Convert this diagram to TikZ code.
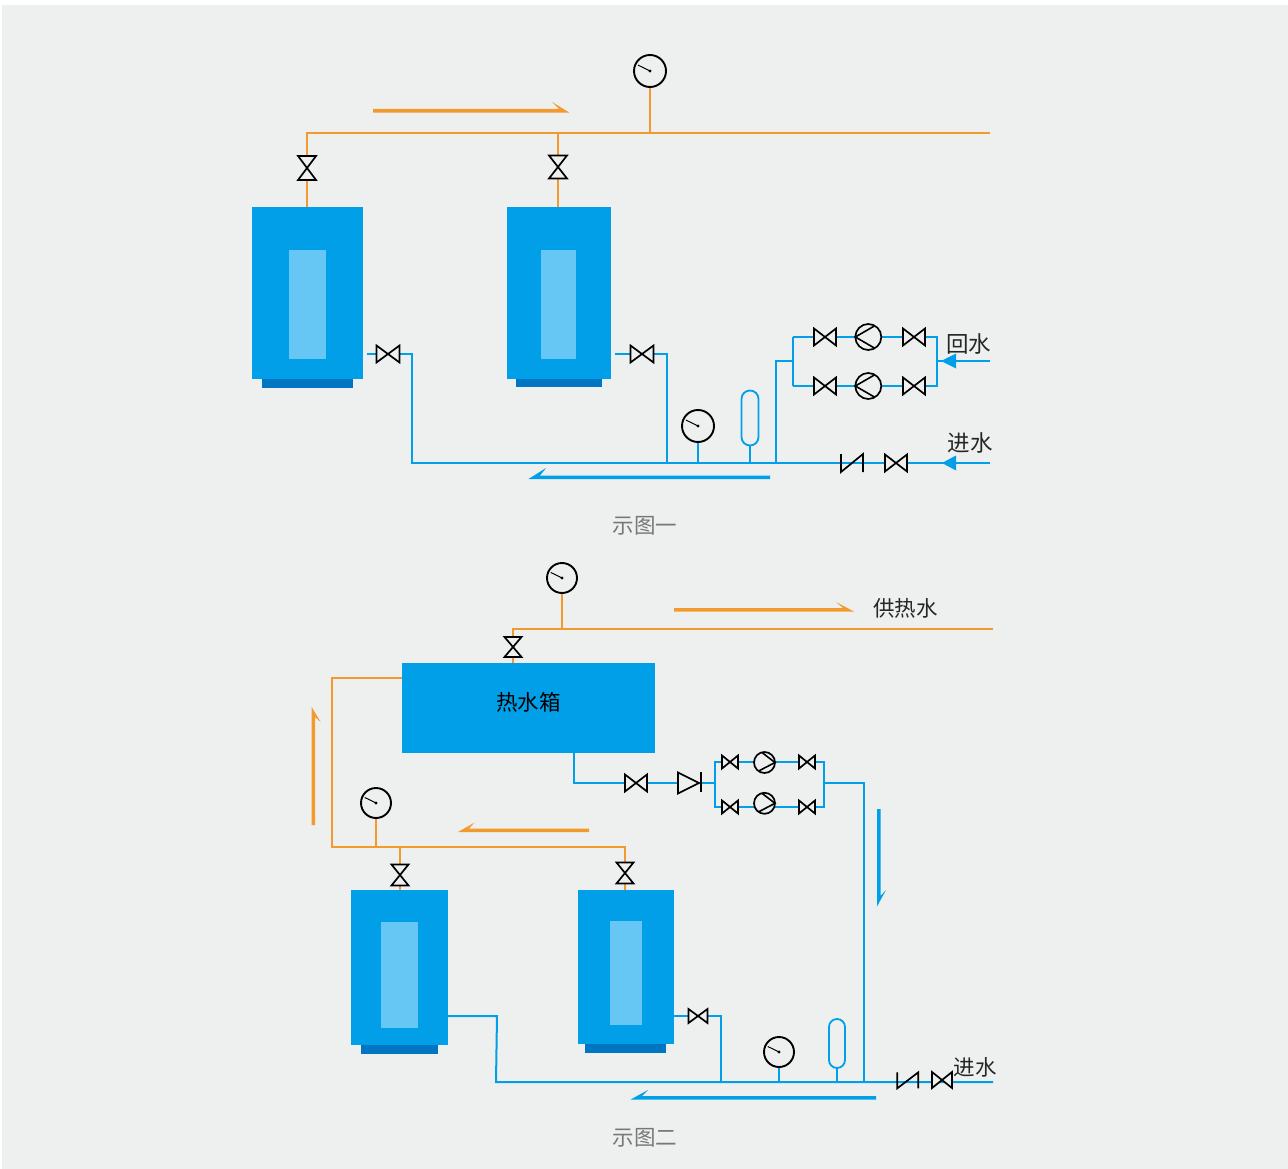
\documentclass[tikz,border=0pt]{standalone}
\usepackage{fontspec}
\setmainfont{Noto Sans CJK SC}
\usetikzlibrary{backgrounds,calc}
\definecolor{bgc}{HTML}{EEF0EF}
\definecolor{blu}{HTML}{009FE8}
\definecolor{inn}{HTML}{66C6F4}
\definecolor{drk}{HTML}{0075C2}
\definecolor{org}{HTML}{F39A2E}
\definecolor{capc}{HTML}{777777}
\tikzset{
  solid box/.style={inner sep=0pt,outer sep=0pt,draw=none},
  bluepipe/.style={draw=blu,line width=2pt,line join=miter},
  orgpipe/.style={draw=org,line width=2pt,line join=miter},
  sym/.style={draw=black,line width=1.7pt,fill=bgc,line join=miter},
  lbl/.style={inner sep=0pt,font=\fontsize{21.5}{21.5}\selectfont,text=black!85},
  captext/.style={inner sep=0pt,font=\fontsize{21.5}{21.5}\selectfont,text=capc}
}
% valves: name x y width height
\newcommand{\vh}[5]{\node[solid box,minimum width=#4pt,minimum height=#5pt] (#1) at (#2,#3) {};
  \draw[sym] (#1.north west) -- (#1.south east) -- (#1.north east) -- (#1.south west) -- cycle;}
\newcommand{\vv}[5]{\node[solid box,minimum width=#4pt,minimum height=#5pt] (#1) at (#2,#3) {};
  \draw[sym] (#1.north west) -- (#1.north east) -- (#1.south west) -- (#1.south east) -- cycle;}
% gauge: name x y r
\newcommand{\gauge}[4]{\node[solid box,circle,minimum size=#4pt*2,draw=black,line width=1.9pt,fill=bgc] (#1) at (#2,#3) {};
  \draw[black,line width=1pt] (#1.center) -- ++(-#4*0.75,-#4*0.37);
  \fill[black] (#1.center) circle (1.6pt);}
% pumps
\newcommand{\pumpL}[4]{\node[solid box,circle,minimum size=#4pt*2,draw=black,line width=1.7pt,fill=bgc] (#1) at (#2,#3) {};
  \draw[black,line width=1.6pt] (#1.60) -- (#1.180) -- (#1.-60);}
\newcommand{\pumpR}[4]{\node[solid box,circle,minimum size=#4pt*2,draw=black,line width=1.7pt,fill=bgc] (#1) at (#2,#3) {};
  \draw[black,line width=1.6pt] (#1.105) -- (#1.0) -- (#1.-125);}
% capsule tank: name x y w h
\newcommand{\capsule}[5]{\node[solid box,rounded corners=#4*0.5pt,minimum width=#4pt,minimum height=#5pt,draw=blu,line width=1.8pt,fill=bgc] (#1) at (#2,#3) {};}
% boiler: name, body x0 x1 y0 y1, base x0 x1 y1, window
\newcommand{\boiler}[9]{\fill[drk] (#6,#5) rectangle (#7,#8);
  \node[solid box,fill=blu,minimum width=#3pt-#2pt,minimum height=#5pt-#4pt] (#1) at ({(#2+#3)/2},{(#4+#5)/2}) {};
  \boilerwin#9}
\def\boilerwin(#1,#2,#3,#4){\fill[inn] (#1,#3) rectangle (#2,#4);}
\begin{document}
\begin{tikzpicture}[x=1pt,y=-1pt]
\useasboundingbox (0,0) rectangle (1288,1169);
\begin{scope}[on background layer]
\fill[white] (0,0) rectangle (1288,1169);
\fill[bgc] (2,5) rectangle (1288,1169);
\end{scope}

% ============ figure one
\boiler{b1}{252}{363}{207}{379}{262}{353}{388}{(289,326,250,359)}
\boiler{b2}{507}{611}{207}{379}{516}{602}{387}{(541,576,250,359)}
\vv{v1}{307}{168}{18}{24}
\vv{v2}{558}{167}{18}{23}
\gauge{g1}{650}{71}{16}
\gauge{g2}{698}{426}{16}
\capsule{t1}{750}{418}{17}{55}
\vh{v3}{388}{354}{23}{17}
\vh{v4}{642}{354}{23}{17}
\vh{v5}{825}{337}{22}{17}
\vh{v6}{825}{386}{22}{17}
\vh{v7}{914}{337}{22}{17}
\vh{v8}{914}{386}{22}{17}
\pumpL{p1}{868.3}{337}{13}
\pumpL{p2}{868.3}{386}{13}
\node[solid box,minimum width=22pt,minimum height=18pt] (c1) at (852,463) {};
\draw[sym,fill=none] (c1.north west) -- (c1.south west) -- (c1.north east) -- (c1.south east);
\vh{v9}{896}{463}{22}{17}

\coordinate (a1) at (307,133);
\coordinate (a2) at (558,133);
\coordinate (a3) at (650,133);
\coordinate (a4) at (990,133);
\coordinate (w1) at (367,354);
\coordinate (w2) at (412,354);
\coordinate (w3) at (412,463);
\coordinate (w4) at (615,354);
\coordinate (w5) at (667,354);
\coordinate (w6) at (667,463);
\coordinate (w7) at (698,463);
\coordinate (w8) at (750,463);
\coordinate (w9) at (776,463);
\coordinate (w10) at (776,361);
\coordinate (w11) at (793,361);
\coordinate (w12) at (793,337);
\coordinate (w13) at (793,386);
\coordinate (w14) at (937,337);
\coordinate (w15) at (937,386);
\coordinate (w16) at (937,361);
\coordinate (w17) at (990,361);
\coordinate (w18) at (990,463);

\begin{scope}[on background layer]
\draw[orgpipe] (b1.north -| a1) -- (v1) -- (a1) -- (a4);
\draw[orgpipe] (b2.north -| a2) -- (v2) -- (a2);
\draw[orgpipe] (g1) -- (a3);
\draw[bluepipe] (w1) -- (v3) -- (w2) -- (w3) -- (w18);
\draw[bluepipe] (w4) -- (v4) -- (w5) -- (w6);
\draw[bluepipe] (g2) -- (w7);
\draw[bluepipe] (t1) -- (w8);
\draw[bluepipe] (w9) -- (w10) -- (w11);
\draw[bluepipe] (w12) -- (w13);
\draw[bluepipe] (w12) -- (w14) -- (w15) -- (w13);
\draw[bluepipe] (w16) -- (w17);
\end{scope}
% inlet heads and flow arrows
\fill[blu] (941,361) -- (956,353.5) -- (956,368.5) -- cycle;
\fill[blu] (942,463) -- (956,455.5) -- (956,470.5) -- cycle;
\fill[org] (373,109) -- (559,109) -- (551.7,101.7) -- (569.5,112.7) -- (373,112.7) -- cycle;
\fill[blu] (770,475.5) -- (540,475.5) -- (546,468) -- (528.5,479) -- (770,479) -- cycle;

\node[lbl,font=\fontsize{22.5}{22.5}\selectfont] (t_hs) at (968.5,344) {回水};
\node[lbl,font=\fontsize{22.5}{22.5}\selectfont] (t_js) at (970,443) {进水};
\node[captext] (t_c1) at (645,526) {示图一};

% ============ figure two
\node[solid box,fill=blu,minimum width=253pt,minimum height=90pt] (tank) at (528.5,708) {};
\node[lbl,text=black] (t_tank) at (528.5,702) {热水箱};
\boiler{b3}{351}{448}{890}{1045}{361}{438}{1054}{(381,418,922,1028)}
\boiler{b4}{578}{674}{890}{1044}{585}{666}{1053}{(610,642,921,1025)}
\vv{u1}{513}{647}{17}{20}
\vv{u2}{400}{875}{17}{21}
\vv{u3}{625}{873}{17}{21}
\gauge{g3}{562}{578}{15}
\gauge{g4}{376}{803}{15}
\gauge{g5}{779}{1052}{15}
\capsule{t2}{837}{1043.5}{16}{49}
\vh{u4}{636}{783}{22}{17}
\node[solid box,minimum width=21pt,minimum height=21pt] (k1) at (688.5,783) {};
\draw[sym,fill=bgc] (k1.north west) -- (k1.east) -- (k1.south west) -- cycle;
\draw[black,line width=1.7pt] ($(k1.east)+(2,-11)$) -- ($(k1.east)+(2,8.5)$);
\coordinate (k2) at ($(k1.east)+(2,0)$);
\vh{u5}{730}{762}{16}{13}
\vh{u6}{730}{807}{16}{13}
\vh{u7}{807}{762}{16}{13}
\vh{u8}{807}{807}{16}{13}
\pumpR{p3}{764.5}{762.5}{10.5}
\pumpR{p4}{764.5}{803.3}{10.5}
\node[solid box,minimum width=21pt,minimum height=16pt] (c2) at (907.8,1080.3) {};
\draw[sym,fill=none] (c2.north west) -- (c2.south west) -- (c2.north east) -- (c2.south east);
\vh{u9}{942}{1080}{20}{16}
\vh{u10}{698}{1016}{19}{14}

\coordinate (o1) at (513,629);
\coordinate (o2) at (562,629);
\coordinate (o3) at (993,629);
\coordinate (o4) at (332,678);
\coordinate (o5) at (332,847);
\coordinate (o6) at (376,847);
\coordinate (o7) at (400,847);
\coordinate (o8) at (625,847);
\coordinate (q1) at (574,783);
\coordinate (q2) at (715,783);
\coordinate (q3) at (715,762);
\coordinate (q4) at (715,807);
\coordinate (q5) at (824,762);
\coordinate (q6) at (824,807);
\coordinate (q7) at (824,783);
\coordinate (q8) at (864,783);
\coordinate (q9) at (864,1082);
\coordinate (q10) at (497,1016);
\coordinate (q11) at (496,1082);
\coordinate (q12) at (993,1082);
\coordinate (q13) at (721,1016);
\coordinate (q14) at (721,1082);
\coordinate (q15) at (779,1082);
\coordinate (q16) at (837,1082);
\begin{scope}[on background layer]
\draw[orgpipe] (tank.north -| o1) -- (u1) -- (o1) -- (o3);
\draw[orgpipe] (g3) -- (o2);
\draw[orgpipe] (tank.west |- o4) -- (o4) -- (o5) -- (o8) -- (b4.north -| o8);
\draw[orgpipe] (g4) -- (o6);
\draw[orgpipe] (o7) -- (b3.north -| o7);
\draw[bluepipe] (tank.south -| q1) -- (q1) -- (u4) -- (k1);
\draw[bluepipe] (k2) -- (q2);
\draw[bluepipe] (q3) -- (q4) -- (q6) -- (q5) -- cycle;
\draw[bluepipe] (q7) -- (q8) -- (q9);
\draw[bluepipe] (b3.east |- q10) -- (q10) -- (q11) -- (q12);
\draw[bluepipe] (b4.east |- q13) -- (u10) -- (q13) -- (q14);
\draw[bluepipe] (g5) -- (q15);
\draw[bluepipe] (t2) -- (q16);
\end{scope}
\fill[org] (674,608) -- (843,608) -- (836,602) -- (854,611.5) -- (674,611.5) -- cycle;
\fill[org] (311.5,825) -- (311.5,706.7) -- (320.7,722) -- (315,717) -- (315,825) -- cycle;
\fill[org] (589,828.7) -- (469,828.7) -- (474.3,822.7) -- (458,832) -- (589,832) -- cycle;
\fill[blu] (877,809) -- (877,906.5) -- (886,890) -- (880.5,896) -- (880.5,809) -- cycle;
\fill[blu] (876,1096) -- (642,1096) -- (648,1090) -- (630.5,1099.6) -- (876,1099.6) -- cycle;

\node[lbl] (t_gr) at (905.5,608) {供热水};
\node[lbl] (t_js2) at (975,1067) {进水};
\node[captext] (t_c2) at (645,1138) {示图二};
\end{tikzpicture}
\end{document}
